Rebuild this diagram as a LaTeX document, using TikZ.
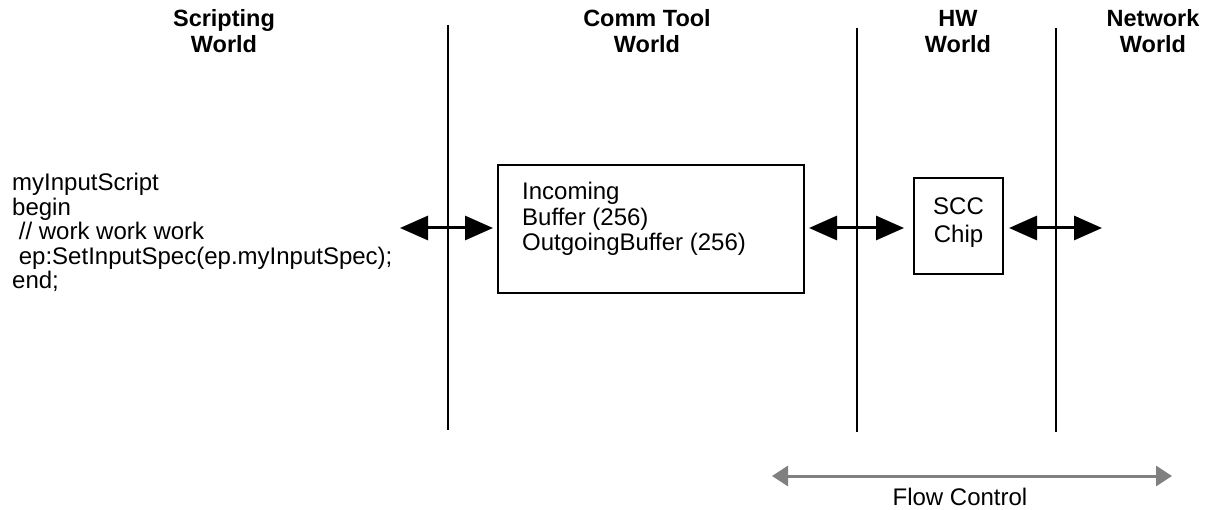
\documentclass[tikz,border=0pt]{standalone}
\usepackage{fontspec}
\setmainfont{Liberation Sans}
\usetikzlibrary{arrows.meta}
\definecolor{flowgray}{RGB}{128,128,128}
\begin{document}
\begin{tikzpicture}[x=1pt,y=-1pt,
  txt/.style={font=\fontsize{24}{24.5}\selectfont, inner sep=0pt, align=left},
  title/.style={font=\fontsize{23.5}{26.5}\selectfont\bfseries, inner sep=0pt, align=center},
  divider/.style={line width=2pt},
  box/.style={draw, line width=2pt, inner sep=0pt},
  biarrow/.style={line width=3pt, {Triangle[length=28pt,width=24pt]}-{Triangle[length=28pt,width=24pt]}},
  flow/.style={flowgray, line width=3pt, {Triangle[length=16pt,width=20pt]}-{Triangle[length=16pt,width=20pt]}}]
\useasboundingbox (0,0) rectangle (1209,510);
% titles (base = baseline of last line)
\node[title, anchor=base] (t1) at (224,53) {Scripting\\World};
\node[title, anchor=base] (t2) at (647,53) {Comm Tool\\World};
\node[title, anchor=base] (t3) at (958,53) {HW\\World};
\node[title, anchor=base] (t4) at (1153,53) {Network\\World};
% dividers
\coordinate (d1t) at (448,25);  \coordinate (d1b) at (448,430);
\coordinate (d2t) at (857,28);  \coordinate (d2b) at (857,432);
\coordinate (d3t) at (1056,28); \coordinate (d3b) at (1056,432);
\draw[divider] (d1t) -- (d1b);
\draw[divider] (d2t) -- (d2b);
\draw[divider] (d3t) -- (d3b);
% script code
\node[txt, anchor=base west] (code) at (12,289)
  {myInputScript\\begin\\\hspace*{0.278em}// work work work\\\hspace*{0.278em}ep:SetInputSpec(ep.myInputSpec);\\end;};
% buffer box
\node[box, minimum width=306pt, minimum height=128pt] (buf) at (651,229) {};
\node[txt, anchor=base west, font=\fontsize{24}{25.5}\selectfont] (buftxt) at (522,251)
  {Incoming\\Buffer (256)\\OutgoingBuffer (256)};
% SCC chip
\node[box, minimum width=89pt, minimum height=96pt] (scc) at (958.5,226) {};
\node[txt, align=center, anchor=base, font=\fontsize{24}{28.5}\selectfont] (scctxt) at (958.5,243) {SCC\\Chip};
% arrows
\coordinate (a1l) at (400,228);
\coordinate (a3r) at (1102,228);
\draw[biarrow] (a1l) -- ([xshift=-4pt]buf.west |- a1l);
\draw[biarrow] ([xshift=4pt]buf.east |- a1l) -- ([xshift=-9pt]scc.west |- a1l);
\draw[biarrow] ([xshift=5pt]scc.east |- a3r) -- (a3r);
% flow control
\coordinate (fl) at (772,476);
\coordinate (fr) at (1172,476);
\draw[flow] (fl) -- (fr);
\node[txt, anchor=base] (flowlbl) at (960,505) {Flow Control};
\end{tikzpicture}
\end{document}
